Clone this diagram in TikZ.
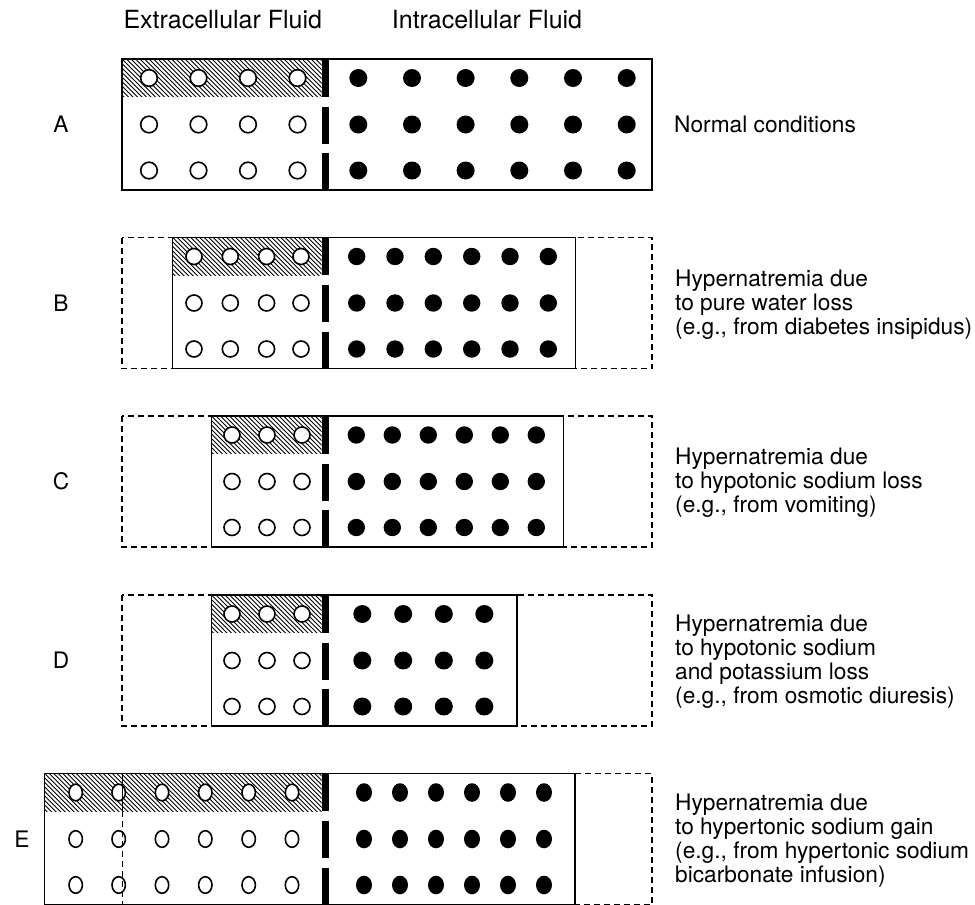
\documentclass[tikz,border=0pt]{standalone}
\usepackage{fontspec}
\setmainfont{TeX Gyre Heros}
\newcommand\hatchbox[4]{%
  \begin{scope}
    \clip (#1,#2) rectangle (#3,#4);
    \foreach \k in {-10,...,64} {
      \draw[hatchline] ({#1+\k*4.5},#2) -- ++(45,45);
    }
  \end{scope}}
\newcommand\membr[1]{%
  \fill[membrane] (321.5,#1) rectangle (328.5,{#1+37.5});
  \fill[membrane] (321.5,{#1+47.5}) rectangle (328.5,{#1+84.5});
  \fill[membrane] (321.5,{#1+94}) rectangle (328.5,{#1+131});}
\begin{document}
\begin{tikzpicture}[x=1pt,y=-1pt,
  solidbox/.style={draw=black, line width=1.5pt},
  dashbox/.style={draw=black, line width=1.3pt, dash pattern=on 6pt off 4pt},
  hatchline/.style={line width=0.9pt},
  opendot/.style={draw=black, fill=white, line width=1.6pt},
  filldot/.style={fill=black},
  membrane/.style={fill=black},
  lbl/.style={font=\fontsize{22.7}{24}\selectfont, inner sep=0pt},
  ttl/.style={font=\fontsize{25}{27}\selectfont, inner sep=0pt, anchor=west},
  desc/.style={lbl, align=left, anchor=west}]
\fill[white] (0,0) rectangle (975,905);
\useasboundingbox (0,0) rectangle (975,905);

% titles
\node[ttl] (ecf) at (123.3,20) {Extracellular Fluid};
\node[ttl] (icf) at (391.7,20) {Intracellular Fluid};

% ---------- Panel A ----------
\hatchbox{122}{59}{321.5}{96.5}
\draw[solidbox] (122,59) rectangle (652,190);
\foreach \x in {149,198.5,248,297.5} \foreach \y in {78,124.5,170.5}
  \draw[opendot] (\x,\y) circle (8.3);
\foreach \x in {358.3,412,465.6,519.3,573,626.7} \foreach \y in {78,124.5,170.5}
  \fill[filldot] (\x,\y) circle (9);
\membr{59}
\node[lbl] (la) at (61,124.5) {A};
\node[desc] (ta) at (674,124.5) {Normal conditions};

% ---------- Panel B ----------
\draw[dashbox] (122,237.5) rectangle (652,368.5);
\hatchbox{172.7}{237.5}{321.5}{275}
\draw[solidbox] (172.7,237.5) rectangle (575.7,368.5);
\foreach \x in {194,230.3,266.6,301} \foreach \y in {256.5,303,349}
  \draw[opendot] (\x,\y) circle (8);
\foreach \x in {356.7,395,433.3,471.7,510,548.3} \foreach \y in {256.5,303,349}
  \fill[filldot] (\x,\y) circle (8.7);
\membr{237.5}
\node[lbl] (lb) at (61,303) {B};
\node[desc] (tb) at (675,305) {Hypernatremia due\\to pure water loss\\(e.g., from diabetes insipidus)};

% ---------- Panel C ----------
\draw[dashbox] (122,416) rectangle (652,547);
\hatchbox{211.5}{416}{321.5}{453.5}
\draw[solidbox] (211.5,416) rectangle (563.3,547);
\foreach \x in {232,267,302} \foreach \y in {435,481.5,527.5}
  \draw[opendot] (\x,\y) circle (8);
\foreach \x in {356.3,392.3,428.3,464.3,500.3,536.3} \foreach \y in {435,481.5,527.5}
  \fill[filldot] (\x,\y) circle (8.7);
\membr{416}
\node[lbl] (lc) at (61,481.5) {C};
\node[desc] (tc) at (675,483) {Hypernatremia due\\to hypotonic sodium loss\\(e.g., from vomiting)};

% ---------- Panel D ----------
\draw[dashbox] (122,595) rectangle (652,726);
\hatchbox{211.5}{595}{321.5}{632.5}
\draw[solidbox] (211.5,595) rectangle (516.8,726);
\foreach \x in {232,267,302} \foreach \y in {614,660.5,706.5}
  \draw[opendot] (\x,\y) circle (8);
\foreach \x in {362.3,403.2,443.8,484.3} \foreach \y in {614,660.5,706.5}
  \fill[filldot] (\x,\y) circle (9);
\membr{595}
\node[lbl] (ld) at (61,660.5) {D};
\node[desc] (td) at (675,661.5) {Hypernatremia due\\to hypotonic sodium\\and potassium loss\\(e.g., from osmotic diuresis)};

% ---------- Panel E ----------
\draw[dashbox] (44.7,773.5) rectangle (652,904.5);
\hatchbox{44.7}{773.5}{321.5}{811}
\draw[solidbox] (44.7,773.5) rectangle (575,904.5);
\foreach \x in {75.7,118.7,162,205.3,248.7,292} \foreach \y in {792.5,839,885}
  \draw[opendot] (\x,\y) ellipse (6.7 and 8.3);
\foreach \x in {364,400,436,472,508,544} \foreach \y in {792.5,839,885}
  \fill[filldot] (\x,\y) ellipse (8 and 9.3);
\draw[line width=1.3pt] (122.5,773.5) -- (122.5,811);
\draw[line width=1.3pt, dash pattern=on 6pt off 4pt] (122.5,811) -- (122.5,904.5);
\membr{773.5}
\node[lbl] (le) at (22,839) {E};
\node[desc] (te) at (675,840.5) {Hypernatremia due\\to hypertonic sodium gain\\(e.g., from hypertonic sodium\\bicarbonate infusion)};
\end{tikzpicture}
\end{document}
